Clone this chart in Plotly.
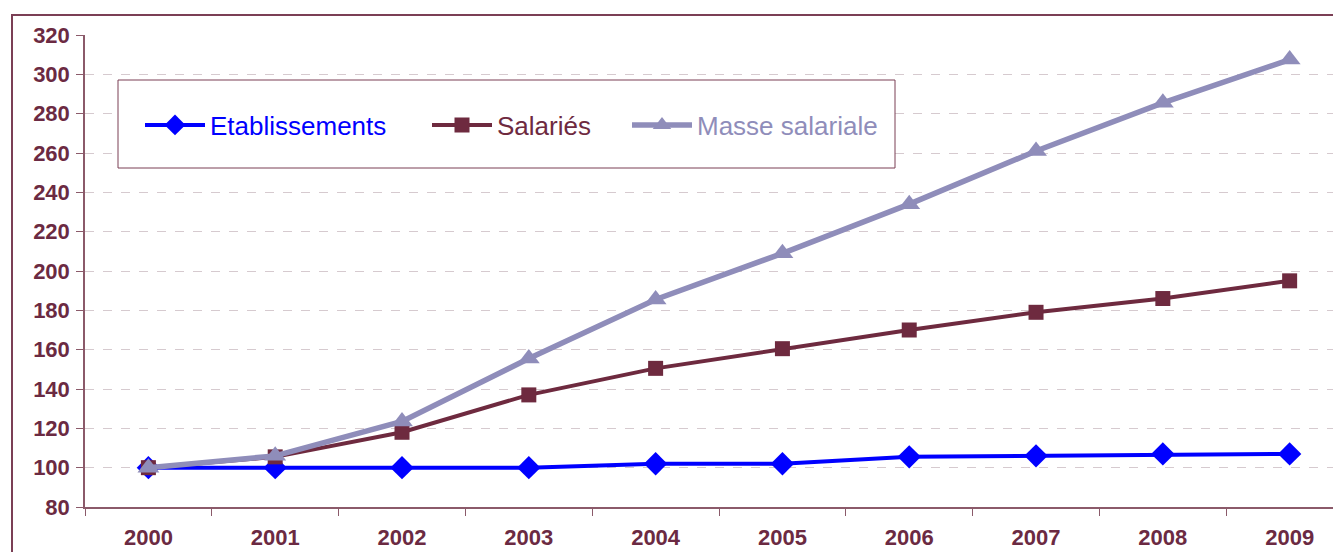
import plotly.graph_objects as go

years = ["2000", "2001", "2002", "2003", "2004", "2005", "2006", "2007", "2008", "2009"]
etablissements = [100, 100, 100, 100, 102, 102, 105.5, 106, 107, 107]
salaries = [100, 105.5, 118, 137, 150.5, 160.5, 170, 179, 186, 195]
masse = [100, 106, 123.5, 155.5, 185.5, 209, 234, 261, 285.5, 307.5]
y_ticks = [80, 100, 120, 140, 160, 180, 200, 220, 240, 260, 280, 300, 320]

MAROON = "#6B2A42"
BLUE = "#0000FF"
SAL = "#6E2A3F"
MASSE = "#8F8DBA"
FONT = "Liberation Sans, Arial, sans-serif"

# page offset (body margin of 8px) compensation
OFF = 8
W, H = 1341 - OFF, 552 - OFF
PL, PT, PB = 85, 35, 507  # plot area in page pixels
L, T = PL - OFF, PT - OFF
B = H - (PB - OFF)
pw, ph = W - L, H - T - B

def px(x):
    return (x - PL) / pw

def py(y):
    return (PB - y) / ph

fig = go.Figure()
fig.add_trace(go.Scatter(x=years, y=etablissements, name="Etablissements", mode="lines+markers",
                         line=dict(color=BLUE, width=4), marker=dict(symbol="diamond", size=18, color=BLUE),
                         legend="legend"))
fig.add_trace(go.Scatter(x=years, y=salaries, name="Salariés", mode="lines+markers",
                         line=dict(color=SAL, width=4), marker=dict(symbol="square", size=15, color=SAL),
                         legend="legend2"))
fig.add_trace(go.Scatter(x=years, y=masse, name="Masse salariale", mode="lines+markers",
                         line=dict(color=MASSE, width=5.5), marker=dict(symbol="triangle-up", size=19, color=MASSE),
                         legend="legend3"))

def leg(x, color):
    return dict(orientation="h", x=px(x), y=py(125), xanchor="left", yanchor="middle",
                bgcolor="rgba(0,0,0,0)", borderwidth=0, itemwidth=60, itemclick=False,
                font=dict(size=26, family=FONT, color=color))

fig.update_layout(
    width=W, height=H,
    margin=dict(l=L, r=0, t=T, b=B, pad=0),
    paper_bgcolor="white", plot_bgcolor="white",
    font=dict(family=FONT, color=MAROON),
    showlegend=True,
    legend=leg(140, BLUE),
    legend2=leg(427, SAL),
    legend3=leg(627, MASSE),
    xaxis=dict(type="category", range=[-0.5, 9.405], tickson="boundaries", ticks="outside",
               ticklen=7, tickcolor="#8B5A6A", showline=True, linecolor="#8B5A6A", linewidth=1.5,
               showgrid=False, tickfont=dict(size=22, color=MAROON, family=FONT, weight="bold"),
               ticklabelstandoff=10),
    yaxis=dict(range=[80, 320], tickvals=y_ticks, ticks="outside", ticklen=7, tickcolor="#8B5A6A",
               showline=True, linecolor="#8B5A6A", linewidth=1.5,
               showgrid=True, gridcolor="#D6CACF", griddash="dash", gridwidth=1, zeroline=False,
               tickfont=dict(size=22, color=MAROON, family=FONT, weight="bold"),
               ticklabelstandoff=2),
    shapes=[
        dict(type="rect", xref="paper", yref="paper", x0=px(12), x1=px(1400), y0=py(600), y1=py(15),
             line=dict(color="#7B3F55", width=2), fillcolor="rgba(0,0,0,0)", layer="above"),
        dict(type="rect", xref="paper", yref="paper", x0=px(118), x1=px(895), y0=py(168), y1=py(80),
             line=dict(color="#7B3F55", width=1), fillcolor="white", layer="above"),
    ],
)
fig.write_html("out.html")
